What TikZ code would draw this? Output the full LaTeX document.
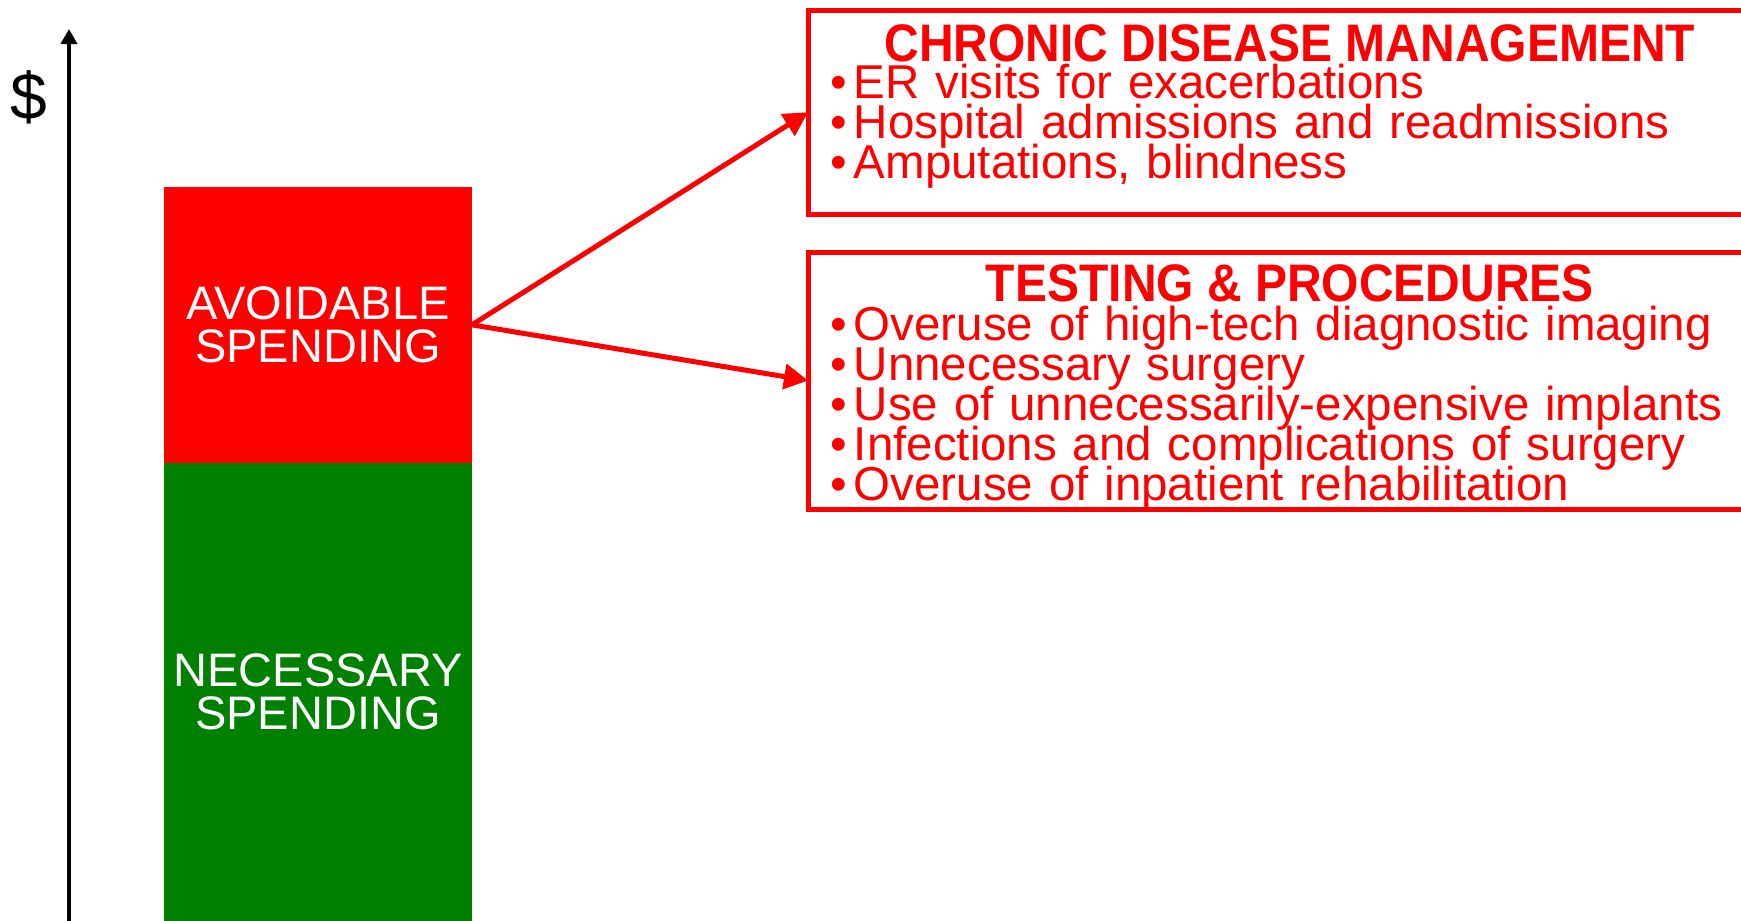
\documentclass[tikz,border=0pt]{standalone}
\usepackage{fontspec}
\setmainfont{Liberation Sans}
\usepackage{graphicx}
\usepackage{tikz}
\usetikzlibrary{positioning}
\usetikzlibrary{arrows.meta}
\definecolor{needgreen}{RGB}{0,128,0}
\newcommand{\tightlines}{\lineskiplimit=-100pt\relax}
\newcommand{\tallcaps}[1]{\scalebox{1}[1.1]{#1}}
\tikzset{spend node/.style={rectangle,minimum width=308pt,inner sep=0pt,outer sep=0pt,text=white,align=center,font=\fontsize{47}{43}\selectfont},
  group box/.style={rectangle,draw=red,line width=5pt,minimum width=1000pt,inner sep=0pt,outer sep=0pt,anchor=north west},
  group title/.style={anchor=base,inner sep=0pt,text=red,font=\fontsize{48}{48}\selectfont\bfseries},
  group list/.style={anchor=base west,inner sep=0pt,text=red,text width=900pt,align=left,font=\fontsize{47.5}{40}\selectfont\tightlines},}

\begin{document}
\begin{tikzpicture}[x=1pt,y=-1pt,>={Triangle[length=24pt,width=25pt]}]
    \useasboundingbox (0,0) rectangle (1741,921);

    % spending bars
    \node[spend node,fill=red,minimum height=275.7pt] (avoid) at (318,324.85) {AVOIDABLE\\SPENDING};
    \node[spend node,fill=needgreen,minimum height=458.3pt,below=0pt of avoid] (need) {NECESSARY\\SPENDING};

    % axis
    \coordinate (foot) at (69,925);
    \coordinate (top) at (69,29);
    \draw[line width=4pt,-{Triangle[length=15pt,width=16pt]}] (foot) -- (top);
    \node[inner sep=0pt,font=\fontsize{66}{66}\selectfont] (dollar) at (29,97) {\$};

    % boxes
    \node[group box,minimum height=204.5pt] (chronic) at (808,10) {};
    \node[group box,minimum height=257pt] (testing) at (808,252) {};

    \node[group title] (chronic title) at (1290,61.5) {\tallcaps{CHRONIC DISEASE MANAGEMENT}};
    \node[group list] (chronic list) at (830,98) {\textbullet\hspace{7pt}ER visits for exacerbations\\
      \textbullet\hspace{7pt}Hospital admissions and readmissions\\
      \textbullet\hspace{7pt}Amputations, blindness};

    \node[group title] (testing title) at (1290,301.5) {\tallcaps{TESTING \& PROCEDURES}};
    \node[group list] (testing list) at (830,340) {\textbullet\hspace{7pt}Overuse of high-tech diagnostic imaging\\
      \textbullet\hspace{7pt}Unnecessary surgery\\
      \textbullet\hspace{7pt}Use of unnecessarily-expensive implants\\
      \textbullet\hspace{7pt}Infections and complications of surgery\\
      \textbullet\hspace{7pt}Overuse of inpatient rehabilitation};

    \path[red,line width=5pt,->]
    (avoid.east) edge (chronic.west)
    	edge (testing.west);
\end{tikzpicture}
\end{document}
